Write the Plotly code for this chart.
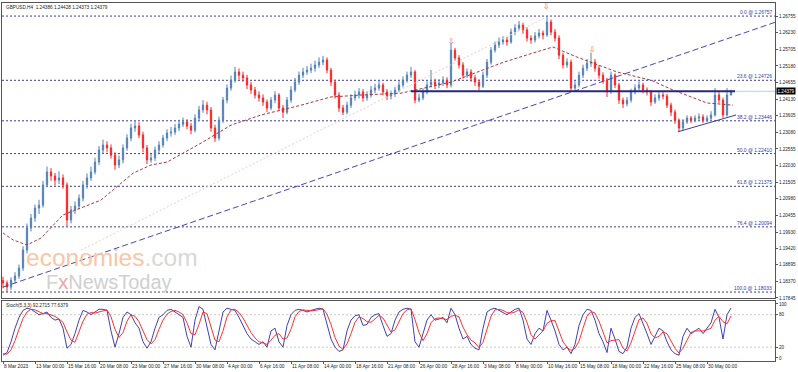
import plotly.graph_objects as go

# ---------------- data (GBPUSD, one candle = 2 x H4 bars) ----------------
opens = [1.1840, 1.1832, 1.1819, 1.1841, 1.1854, 1.1879, 1.1936, 1.2006, 1.2037, 1.2069,
         1.2078, 1.2142, 1.2183, 1.2170, 1.2157, 1.2164, 1.2142, 1.2031, 1.2063, 1.2075,
         1.2100, 1.2142, 1.2164, 1.2183, 1.2214, 1.2252, 1.2268, 1.2259, 1.2236, 1.2205,
         1.2221, 1.2259, 1.2290, 1.2322, 1.2328, 1.2300, 1.2259, 1.2221, 1.2227, 1.2252,
         1.2268, 1.2290, 1.2306, 1.2309, 1.2322, 1.2334, 1.2341, 1.2328, 1.2315, 1.2353,
         1.2379, 1.2394, 1.2379, 1.2322, 1.2290, 1.2347, 1.2410, 1.2448, 1.2473, 1.2499,
         1.2489, 1.2480, 1.2458, 1.2442, 1.2426, 1.2417, 1.2404, 1.2385, 1.2410, 1.2426,
         1.2385, 1.2372, 1.2410, 1.2442, 1.2467, 1.2489, 1.2499, 1.2505, 1.2511, 1.2521,
         1.2530, 1.2537, 1.2505, 1.2467, 1.2426, 1.2385, 1.2372, 1.2394, 1.2417, 1.2426,
         1.2436, 1.2417, 1.2426, 1.2442, 1.2448, 1.2458, 1.2436, 1.2423, 1.2429, 1.2442,
         1.2458, 1.2473, 1.2489, 1.2499, 1.2410, 1.2417, 1.2436, 1.2458, 1.2467, 1.2458,
         1.2464, 1.2473, 1.2458, 1.2568, 1.2543, 1.2521, 1.2489, 1.2499, 1.2480, 1.2467,
         1.2454, 1.2489, 1.2530, 1.2568, 1.2584, 1.2594, 1.2600, 1.2594, 1.2625, 1.2638,
         1.2647, 1.2632, 1.2606, 1.2600, 1.2613, 1.2622, 1.2616, 1.2657, 1.2625, 1.2606,
         1.2552, 1.2521, 1.2530, 1.2448, 1.2458, 1.2489, 1.2511, 1.2527, 1.2530, 1.2511,
         1.2489, 1.2473, 1.2436, 1.2489, 1.2458, 1.2410, 1.2398, 1.2410, 1.2436, 1.2448,
         1.2458, 1.2442, 1.2436, 1.2404, 1.2417, 1.2426, 1.2423, 1.2394, 1.2372, 1.2347,
         1.2322, 1.2341, 1.2353, 1.2347, 1.2353, 1.2357, 1.2347, 1.2353, 1.2363, 1.2426,
         1.2410, 1.2363, 1.2426]
highs = [1.1852, 1.1840, 1.1850, 1.1866, 1.1890, 1.1948, 1.2020, 1.2050, 1.2080, 1.2095,
         1.2155, 1.2200, 1.2195, 1.2180, 1.2185, 1.2175, 1.2150, 1.2075, 1.2090, 1.2112,
         1.2155, 1.2178, 1.2200, 1.2228, 1.2265, 1.2285, 1.2280, 1.2270, 1.2245, 1.2235,
         1.2270, 1.2302, 1.2335, 1.2345, 1.2340, 1.2310, 1.2268, 1.2240, 1.2263, 1.2280,
         1.2300, 1.2318, 1.2325, 1.2335, 1.2348, 1.2355, 1.2350, 1.2338, 1.2365, 1.2392,
         1.2410, 1.2405, 1.2388, 1.2332, 1.2358, 1.2420, 1.2460, 1.2488, 1.2515, 1.2510,
         1.2500, 1.2490, 1.2468, 1.2452, 1.2438, 1.2428, 1.2412, 1.2420, 1.2438, 1.2432,
         1.2395, 1.2420, 1.2455, 1.2480, 1.2500, 1.2512, 1.2518, 1.2525, 1.2535, 1.2545,
         1.2550, 1.2545, 1.2512, 1.2475, 1.2435, 1.2395, 1.2405, 1.2428, 1.2440, 1.2448,
         1.2445, 1.2438, 1.2455, 1.2462, 1.2472, 1.2465, 1.2445, 1.2440, 1.2452, 1.2470,
         1.2485, 1.2500, 1.2515, 1.2505, 1.2430, 1.2447, 1.2470, 1.2505, 1.2478, 1.2476,
         1.2485, 1.2482, 1.2590, 1.2575, 1.2552, 1.2530, 1.2510, 1.2508, 1.2490, 1.2475,
         1.2500, 1.2540, 1.2578, 1.2595, 1.2608, 1.2612, 1.2610, 1.2636, 1.2650, 1.2660,
         1.2655, 1.2640, 1.2615, 1.2625, 1.2635, 1.2630, 1.2676, 1.2665, 1.2635, 1.2615,
         1.2560, 1.2542, 1.2538, 1.2470, 1.2500, 1.2522, 1.2540, 1.2560, 1.2540, 1.2520,
         1.2498, 1.2480, 1.2500, 1.2495, 1.2465, 1.2418, 1.2420, 1.2446, 1.2460, 1.2470,
         1.2465, 1.2450, 1.2442, 1.2428, 1.2436, 1.2435, 1.2430, 1.2402, 1.2380, 1.2352,
         1.2350, 1.2362, 1.2360, 1.2362, 1.2368, 1.2365, 1.2362, 1.2375, 1.2448, 1.2435,
         1.2418, 1.2448, 1.2443]
lows = [1.1815, 1.1803, 1.1810, 1.1830, 1.1845, 1.1870, 1.1925, 1.1995, 1.2025, 1.2050,
        1.2070, 1.2135, 1.2155, 1.2140, 1.2145, 1.2130, 1.2012, 1.2020, 1.2050, 1.2065,
        1.2090, 1.2130, 1.2155, 1.2175, 1.2205, 1.2240, 1.2245, 1.2225, 1.2190, 1.2195,
        1.2210, 1.2250, 1.2280, 1.2310, 1.2290, 1.2245, 1.2208, 1.2212, 1.2218, 1.2243,
        1.2260, 1.2280, 1.2295, 1.2300, 1.2312, 1.2325, 1.2318, 1.2302, 1.2308, 1.2345,
        1.2370, 1.2365, 1.2310, 1.2278, 1.2282, 1.2338, 1.2400, 1.2440, 1.2465, 1.2475,
        1.2468, 1.2445, 1.2430, 1.2415, 1.2405, 1.2392, 1.2372, 1.2378, 1.2400, 1.2375,
        1.2354, 1.2365, 1.2402, 1.2435, 1.2458, 1.2480, 1.2490, 1.2495, 1.2500, 1.2512,
        1.2520, 1.2495, 1.2455, 1.2415, 1.2372, 1.2363, 1.2365, 1.2385, 1.2408, 1.2415,
        1.2405, 1.2408, 1.2418, 1.2432, 1.2440, 1.2425, 1.2410, 1.2412, 1.2420, 1.2435,
        1.2450, 1.2465, 1.2480, 1.2400, 1.2403, 1.2410, 1.2428, 1.2450, 1.2445, 1.2448,
        1.2455, 1.2448, 1.2450, 1.2535, 1.2510, 1.2478, 1.2480, 1.2468, 1.2455, 1.2440,
        1.2448, 1.2480, 1.2522, 1.2560, 1.2575, 1.2585, 1.2582, 1.2588, 1.2615, 1.2630,
        1.2620, 1.2595, 1.2588, 1.2592, 1.2605, 1.2602, 1.2610, 1.2615, 1.2595, 1.2540,
        1.2510, 1.2512, 1.2436, 1.2440, 1.2450, 1.2480, 1.2502, 1.2515, 1.2500, 1.2478,
        1.2462, 1.2420, 1.2430, 1.2448, 1.2398, 1.2385, 1.2390, 1.2402, 1.2428, 1.2440,
        1.2432, 1.2425, 1.2392, 1.2398, 1.2408, 1.2412, 1.2385, 1.2360, 1.2335, 1.2310,
        1.2315, 1.2335, 1.2338, 1.2340, 1.2345, 1.2338, 1.2340, 1.2345, 1.2358, 1.2400,
        1.2354, 1.2358, 1.2427]
closes = [1.1832, 1.1819, 1.1841, 1.1854, 1.1879, 1.1936, 1.2006, 1.2037, 1.2069, 1.2078,
          1.2142, 1.2183, 1.2170, 1.2157, 1.2164, 1.2142, 1.2031, 1.2063, 1.2075, 1.2100,
          1.2142, 1.2164, 1.2183, 1.2214, 1.2252, 1.2268, 1.2259, 1.2236, 1.2205, 1.2221,
          1.2259, 1.2290, 1.2322, 1.2328, 1.2300, 1.2259, 1.2221, 1.2227, 1.2252, 1.2268,
          1.2290, 1.2306, 1.2309, 1.2322, 1.2334, 1.2341, 1.2328, 1.2315, 1.2353, 1.2379,
          1.2394, 1.2379, 1.2322, 1.2290, 1.2347, 1.2410, 1.2448, 1.2473, 1.2499, 1.2489,
          1.2480, 1.2458, 1.2442, 1.2426, 1.2417, 1.2404, 1.2385, 1.2410, 1.2426, 1.2385,
          1.2372, 1.2410, 1.2442, 1.2467, 1.2489, 1.2499, 1.2505, 1.2511, 1.2521, 1.2530,
          1.2537, 1.2505, 1.2467, 1.2426, 1.2385, 1.2372, 1.2394, 1.2417, 1.2426, 1.2436,
          1.2417, 1.2426, 1.2442, 1.2448, 1.2458, 1.2436, 1.2423, 1.2429, 1.2442, 1.2458,
          1.2473, 1.2489, 1.2499, 1.2410, 1.2417, 1.2436, 1.2458, 1.2467, 1.2458, 1.2464,
          1.2473, 1.2458, 1.2568, 1.2543, 1.2521, 1.2489, 1.2499, 1.2480, 1.2467, 1.2454,
          1.2489, 1.2530, 1.2568, 1.2584, 1.2594, 1.2600, 1.2594, 1.2625, 1.2638, 1.2647,
          1.2632, 1.2606, 1.2600, 1.2613, 1.2622, 1.2616, 1.2657, 1.2625, 1.2606, 1.2552,
          1.2521, 1.2530, 1.2448, 1.2458, 1.2489, 1.2511, 1.2527, 1.2530, 1.2511, 1.2489,
          1.2473, 1.2436, 1.2489, 1.2458, 1.2410, 1.2398, 1.2410, 1.2436, 1.2448, 1.2458,
          1.2442, 1.2436, 1.2404, 1.2417, 1.2426, 1.2423, 1.2394, 1.2372, 1.2347, 1.2322,
          1.2341, 1.2353, 1.2347, 1.2353, 1.2357, 1.2347, 1.2353, 1.2363, 1.2426, 1.2410,
          1.2363, 1.2426, 1.2438]

# moving average: H4 bar index / value
ma_bar = [0, 5, 12, 19, 30, 39, 49, 65, 74, 82, 99, 114, 129, 149, 164, 179, 199, 224,
          249, 265, 275, 287, 307, 324, 335, 352, 365]
ma_val = [1.1990, 1.1968, 1.1952, 1.1974, 1.2047, 1.2069, 1.2094, 1.2179, 1.2205, 1.2214,
          1.2274, 1.2331, 1.2363, 1.2394, 1.2420, 1.2426, 1.2432, 1.2467, 1.2527, 1.2559,
          1.2578, 1.2546, 1.2499, 1.2473, 1.2442, 1.2401, 1.2394]

stoch_k = [5, 10, 30, 55, 75, 88, 92, 90, 85, 80, 82, 85, 75, 70, 72, 55, 18, 25, 45, 70,
           88, 85, 80, 85, 90, 90, 88, 50, 20, 45, 75, 85, 80, 65, 55, 30, 18, 30, 55, 75,
           80, 88, 90, 85, 80, 75, 40, 20, 70, 95, 90, 60, 25, 15, 50, 85, 92, 90, 88, 75,
           60, 45, 35, 30, 25, 30, 20, 50, 55, 30, 20, 60, 80, 88, 90, 88, 85, 88, 90, 92,
           90, 60, 35, 20, 12, 15, 50, 70, 78, 80, 60, 62, 75, 80, 82, 60, 40, 45, 70, 85,
           90, 92, 90, 30, 20, 45, 70, 80, 70, 72, 75, 65, 92, 80, 55, 35, 40, 25, 18, 15,
           55, 85, 90, 92, 88, 85, 80, 85, 90, 92, 70, 35, 25, 45, 55, 50, 88, 70, 50, 25,
           15, 20, 8, 25, 60, 80, 90, 88, 70, 45, 30, 10, 55, 35, 12, 8, 20, 55, 75, 82,
           65, 45, 25, 40, 55, 50, 30, 15, 8, 5, 40, 55, 45, 50, 55, 45, 55, 65, 90, 75,
           35, 80, 92.27]
stoch_d = [8, 7, 15, 32, 53, 73, 85, 90, 89, 85, 82, 82, 80, 77, 72, 66, 48, 33, 29, 47,
           68, 81, 84, 83, 85, 88, 89, 76, 53, 38, 47, 68, 80, 77, 67, 50, 34, 26, 34, 53,
           70, 81, 86, 88, 85, 80, 65, 45, 43, 62, 85, 82, 58, 33, 30, 50, 76, 89, 90, 84,
           74, 60, 47, 37, 30, 28, 25, 33, 42, 45, 35, 37, 53, 76, 86, 89, 88, 87, 88, 90,
           91, 81, 62, 38, 22, 16, 26, 45, 66, 76, 73, 67, 66, 72, 79, 74, 61, 48, 52, 67,
           82, 89, 91, 71, 47, 32, 45, 65, 73, 74, 72, 71, 77, 79, 76, 57, 43, 33, 28, 19,
           29, 52, 77, 89, 90, 88, 84, 83, 85, 89, 84, 66, 43, 35, 42, 50, 64, 69, 69, 48,
           30, 20, 14, 18, 31, 55, 77, 86, 83, 68, 48, 28, 32, 33, 34, 18, 13, 28, 50, 71,
           74, 64, 45, 37, 40, 48, 45, 32, 18, 9, 18, 33, 47, 50, 50, 50, 52, 55, 70, 77,
           67, 63, 77.64]

fib_levels = [1.26757, 1.24726, 1.23446, 1.22410, 1.21375, 1.20094, 1.18033]
fib_names = ["0.0", "23.6", "38.2", "50.0", "61.8", "76.4", "100.0"]

price_ticks = [1.26755, 1.26230, 1.25705, 1.25180, 1.24655, 1.24130, 1.23605, 1.23080,
               1.22555, 1.22030, 1.21505, 1.20980, 1.20455, 1.19930, 1.19420, 1.18895,
               1.18370, 1.17845]

time_ticks = [0, 16, 32, 48, 64, 80, 96, 112, 128, 144, 160, 176, 192, 208, 224, 240,
              256, 272, 288, 304, 320, 336, 352]
time_labels = ["8 Mar 2023", "13 Mar 00:00", "15 Mar 16:00", "20 Mar 08:00", "23 Mar 00:00",
               "27 Mar 16:00", "30 Mar 08:00", "4 Apr 00:00", "6 Apr 16:00", "11 Apr 08:00",
               "14 Apr 00:00", "18 Apr 16:00", "21 Apr 08:00", "26 Apr 00:00", "28 Apr 16:00",
               "3 May 08:00", "8 May 00:00", "10 May 16:00", "15 May 08:00", "18 May 00:00",
               "22 May 16:00", "25 May 08:00", "30 May 00:00"]

# trend lines (H4 bar, price)
trend_bar = [0, 386.5]
trend_val = [1.1819, 1.2657]
channel_bar = [39, 271.5]
channel_val = [1.1936, 1.2672]
support_bar = [337.5, 366.5]
support_val = [1.2310, 1.2363]
level_bar = [204, 366]
level_val = [1.2438, 1.2438]
bid = 1.24379
arrow_bar = [224, 271.5, 294.5]
arrow_val = [1.2594, 1.2704, 1.2568]

X_END = 386
FONT = "Liberation Sans"
x = [2 * i for i in range(len(closes))]

fig = go.Figure()

fig.add_trace(go.Scatter(x=channel_bar, y=channel_val, mode="lines",
                         line=dict(color="#f0cccc", width=1, dash="2px,2px"), hoverinfo="skip"))
fig.add_trace(go.Scatter(x=trend_bar, y=trend_val, mode="lines",
                         line=dict(color="#4646b8", width=1, dash="6px,3px"), hoverinfo="skip"))
fig.add_trace(go.Scatter(x=ma_bar, y=ma_val, mode="lines",
                         line=dict(color="#a83a3a", width=1, dash="3px,2px"), hoverinfo="skip"))
fig.add_trace(go.Candlestick(
    x=x, open=opens, high=highs, low=lows, close=closes,
    increasing=dict(line=dict(color="#4f80b8", width=1), fillcolor="#6d9ccc"),
    decreasing=dict(line=dict(color="#ff2424", width=1), fillcolor="#ff2424"),
    whiskerwidth=0, hoverinfo="skip"))
fig.add_trace(go.Scatter(x=level_bar, y=level_val, mode="lines",
                         line=dict(color="#28287e", width=2), hoverinfo="skip"))
fig.add_trace(go.Scatter(x=[level_bar[1], X_END], y=[bid, bid], mode="lines",
                         line=dict(color="#a8d8ea", width=1), hoverinfo="skip"))
fig.add_trace(go.Scatter(x=support_bar, y=support_val, mode="lines",
                         line=dict(color="#3c3c9c", width=1), hoverinfo="skip"))
fig.add_trace(go.Scatter(x=arrow_bar, y=arrow_val, mode="text", text=["⇩"] * 3,
                         textfont=dict(color="#ff5a3c", size=8, family="DejaVu Sans"),
                         hoverinfo="skip"))

# stochastic
fig.add_trace(go.Scatter(x=x, y=stoch_k, mode="lines", xaxis="x2", yaxis="y2",
                         line=dict(color="#4040b4", width=1), hoverinfo="skip"))
fig.add_trace(go.Scatter(x=x, y=stoch_d, mode="lines", xaxis="x2", yaxis="y2",
                         line=dict(color="#ff3030", width=1), hoverinfo="skip"))

shapes = []
for lv in fib_levels:
    shapes.append(dict(type="line", xref="x", yref="y", x0=-0.5, x1=X_END, y0=lv, y1=lv,
                       line=dict(color="#3a3aa8", width=1, dash="2px,2px"), layer="below"))
for lv in (80, 20):
    shapes.append(dict(type="line", xref="x2", yref="y2", x0=-0.5, x1=X_END, y0=lv, y1=lv,
                       line=dict(color="#c8c8c8", width=1, dash="2px,2px"), layer="below"))

annotations = []
for name, lv in zip(fib_names, fib_levels):
    annotations.append(dict(xref="x", yref="y", x=X_END - 1, y=lv, xanchor="right",
                            yanchor="bottom", showarrow=False, yshift=0, borderpad=0,
                            text=f"{name} @ {lv:.5f}",
                            font=dict(size=4.9, color="#3535b0", family=FONT)))
annotations.append(dict(xref="paper", yref="y", x=1.0, y=bid, xanchor="left", yanchor="middle",
                        showarrow=False, text=f"{bid:.5f}", bgcolor="#000000", xshift=1,
                        font=dict(size=4.6, color="#ffffff", family=FONT), borderpad=0.5))
annotations.append(dict(xref="paper", yref="paper", x=0.002, y=0.988, xanchor="left",
                        yanchor="middle", showarrow=False,
                        text="GBPUSD,H4  1.24386 1.24428 1.24373 1.24379",
                        font=dict(size=4.7, color="#222222", family=FONT)))
annotations.append(dict(xref="paper", yref="paper", x=0.002, y=0.155, xanchor="left",
                        yanchor="middle", showarrow=False,
                        text="Stoch(5,3,3) 92.2715 77.6379",
                        font=dict(size=4.7, color="#222222", family=FONT)))
annotations.append(dict(xref="paper", yref="paper", x=0.030, y=0.290, xanchor="left",
                        yanchor="middle", showarrow=False, borderpad=0,
                        text="<span style='color:#f9c6a6'>economies</span>"
                             "<span style='color:#d8d8d8'>.com</span>",
                        font=dict(size=24.5, family=FONT)))
annotations.append(dict(xref="paper", yref="paper", x=0.056, y=0.222, xanchor="left",
                        yanchor="middle", showarrow=False, borderpad=0,
                        text="<span style='color:#d2d2d2'>F</span>"
                             "<span style='color:#e8a8a8'>x</span>"
                             "<span style='color:#cfcfcf'>NewsToday</span>",
                        font=dict(size=20, family=FONT)))

fig.update_layout(
    width=798, height=372,
    margin=dict(l=2, r=23, t=3, b=11),
    paper_bgcolor="white", plot_bgcolor="white",
    showlegend=False, boxgap=0.55, hovermode=False,
    xaxis=dict(domain=[0, 1], anchor="y", range=[-0.5, X_END], showticklabels=False,
               showgrid=False, zeroline=False, showline=True, mirror=True,
               linecolor="#555555", linewidth=1, rangeslider=dict(visible=False), ticks=""),
    yaxis=dict(domain=[0.176, 1], anchor="x", range=[1.17845, 1.2717], side="right",
               tickvals=price_ticks, ticktext=[f"{v:.5f}" for v in price_ticks],
               tickfont=dict(size=4.6, color="#222222", family=FONT), ticks="outside",
               ticklen=2, tickcolor="#555555", showgrid=False, zeroline=False,
               showline=True, mirror=True, linecolor="#555555", linewidth=1),
    xaxis2=dict(domain=[0, 1], anchor="y2", matches="x", range=[-0.5, X_END],
                tickvals=time_ticks, ticktext=time_labels, ticklabelposition="outside right",
                tickangle=0,
                tickfont=dict(size=4.8, color="#222222", family=FONT), ticks="outside",
                ticklen=2, tickcolor="#555555", showgrid=False, zeroline=False,
                showline=True, mirror=True, linecolor="#555555", linewidth=1),
    yaxis2=dict(domain=[0, 0.168], anchor="x2", range=[-5.6, 105.6], side="right",
                tickvals=[0, 20, 80, 100], ticktext=["0", "20", "80", "100"],
                tickfont=dict(size=4.6, color="#222222", family=FONT), ticks="outside",
                ticklen=2, tickcolor="#555555", showgrid=False, zeroline=False,
                showline=True, mirror=True, linecolor="#555555", linewidth=1),
    shapes=shapes, annotations=annotations,
)

fig.write_html("out.html", config={"displayModeBar": False},
               post_script="document.body.style.margin='0px';")
